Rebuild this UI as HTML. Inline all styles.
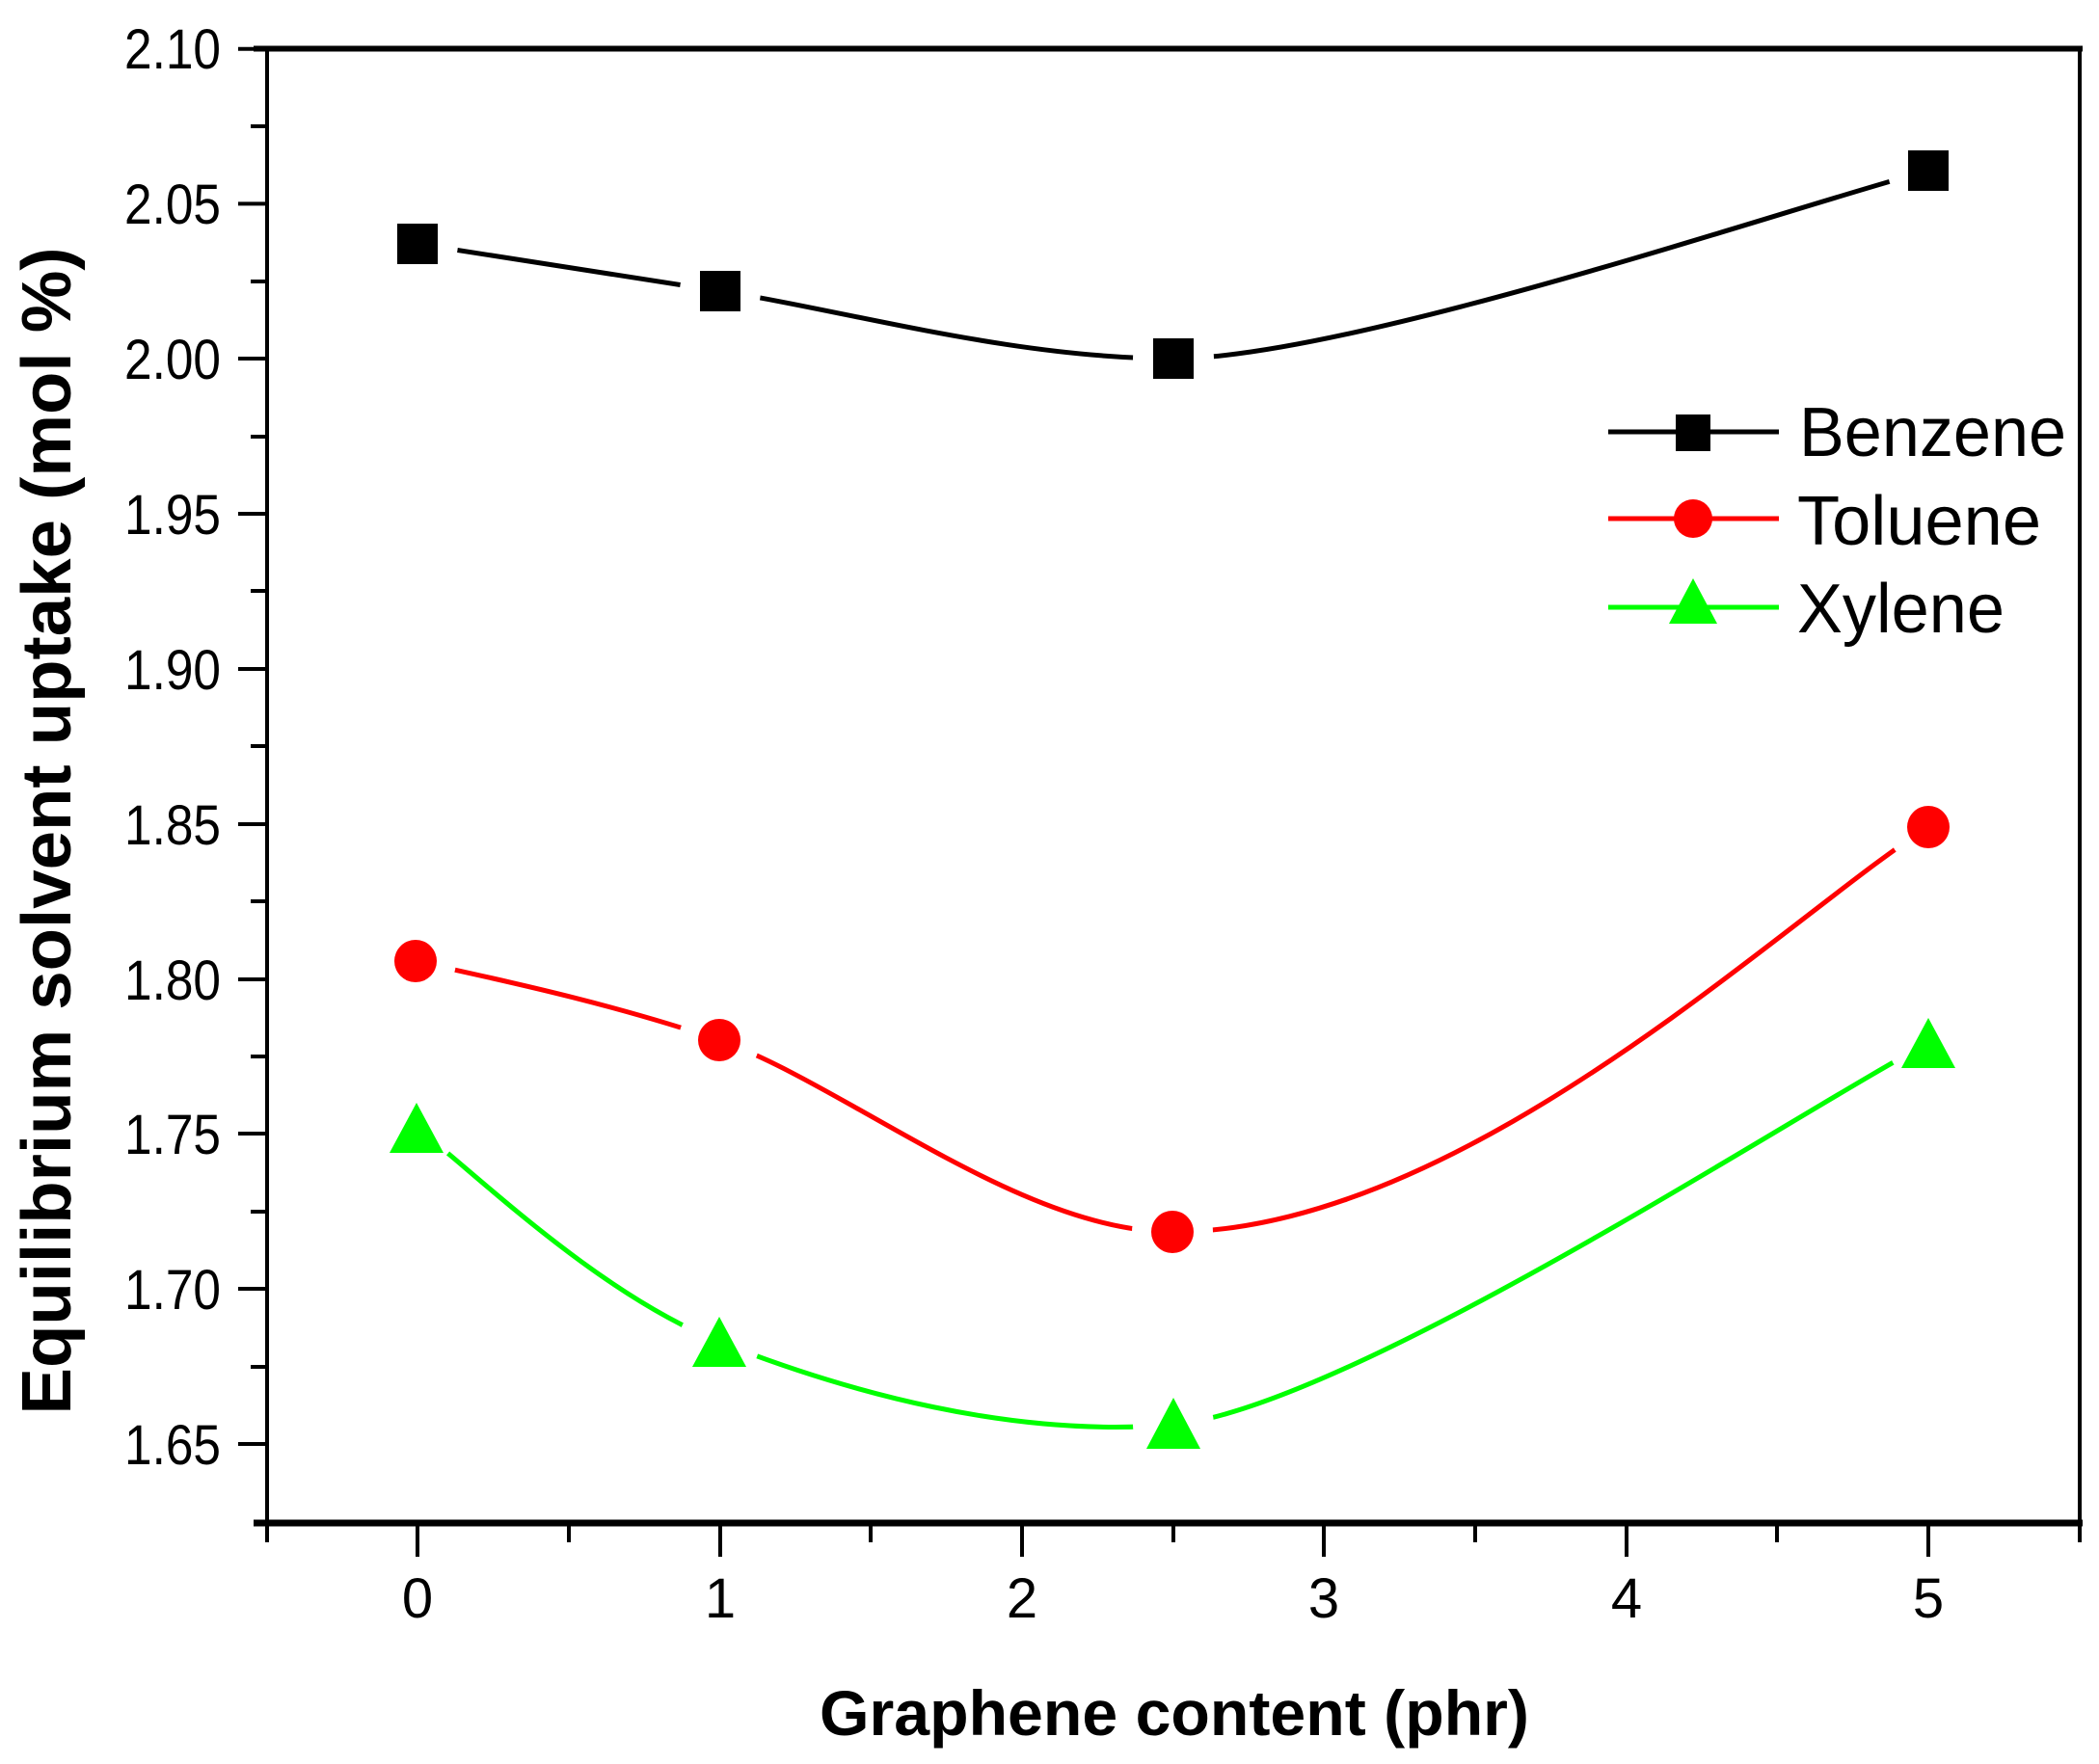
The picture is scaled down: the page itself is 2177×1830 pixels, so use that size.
<!DOCTYPE html>
<html><head><meta charset="utf-8"><style>
html,body{margin:0;padding:0;background:#fff;}
svg{display:block;}
text{font-family:"Liberation Sans",Arial,sans-serif;fill:#000;}
</style></head><body>
<svg width="2177" height="1830" viewBox="0 0 2177 1830" xmlns="http://www.w3.org/2000/svg">
<rect width="2177" height="1830" fill="#fff"/>
<line x1="277" y1="50.5" x2="277" y2="1580" stroke="#000" stroke-width="4"/>
<line x1="2157" y1="50.5" x2="2157" y2="1580" stroke="#000" stroke-width="4"/>
<line x1="263" y1="50.5" x2="2160" y2="50.5" stroke="#000" stroke-width="6"/>
<line x1="263" y1="1580" x2="2160" y2="1580" stroke="#000" stroke-width="7"/>
<g stroke="#000" stroke-width="4">
<line x1="247" y1="50.7" x2="277" y2="50.7"/>
<line x1="260" y1="131" x2="277" y2="131"/>
<line x1="247" y1="211.4" x2="277" y2="211.4"/>
<line x1="260" y1="292" x2="277" y2="292"/>
<line x1="247" y1="372" x2="277" y2="372"/>
<line x1="260" y1="453" x2="277" y2="453"/>
<line x1="247" y1="533" x2="277" y2="533"/>
<line x1="260" y1="613" x2="277" y2="613"/>
<line x1="247" y1="694" x2="277" y2="694"/>
<line x1="260" y1="774" x2="277" y2="774"/>
<line x1="247" y1="855" x2="277" y2="855"/>
<line x1="260" y1="935" x2="277" y2="935"/>
<line x1="247" y1="1016" x2="277" y2="1016"/>
<line x1="260" y1="1096" x2="277" y2="1096"/>
<line x1="247" y1="1176" x2="277" y2="1176"/>
<line x1="260" y1="1257" x2="277" y2="1257"/>
<line x1="247" y1="1337" x2="277" y2="1337"/>
<line x1="260" y1="1418" x2="277" y2="1418"/>
<line x1="247" y1="1498" x2="277" y2="1498"/>
</g>
<g stroke="#000" stroke-width="4">
<line x1="277" y1="1580" x2="277" y2="1600"/>
<line x1="433" y1="1580" x2="433" y2="1615"/>
<line x1="590" y1="1580" x2="590" y2="1600"/>
<line x1="747" y1="1580" x2="747" y2="1615"/>
<line x1="903" y1="1580" x2="903" y2="1600"/>
<line x1="1060" y1="1580" x2="1060" y2="1615"/>
<line x1="1217" y1="1580" x2="1217" y2="1600"/>
<line x1="1373" y1="1580" x2="1373" y2="1615"/>
<line x1="1530" y1="1580" x2="1530" y2="1600"/>
<line x1="1687" y1="1580" x2="1687" y2="1615"/>
<line x1="1843" y1="1580" x2="1843" y2="1600"/>
<line x1="2000" y1="1580" x2="2000" y2="1615"/>
<line x1="2157" y1="1580" x2="2157" y2="1600"/>
</g>
<g font-size="58" text-anchor="end">
<text x="229" y="71" textLength="100" lengthAdjust="spacingAndGlyphs">2.10</text>
<text x="229" y="232" textLength="100" lengthAdjust="spacingAndGlyphs">2.05</text>
<text x="229" y="393" textLength="100" lengthAdjust="spacingAndGlyphs">2.00</text>
<text x="229" y="554" textLength="100" lengthAdjust="spacingAndGlyphs">1.95</text>
<text x="229" y="715" textLength="100" lengthAdjust="spacingAndGlyphs">1.90</text>
<text x="229" y="876" textLength="100" lengthAdjust="spacingAndGlyphs">1.85</text>
<text x="229" y="1037" textLength="100" lengthAdjust="spacingAndGlyphs">1.80</text>
<text x="229" y="1197" textLength="100" lengthAdjust="spacingAndGlyphs">1.75</text>
<text x="229" y="1358" textLength="100" lengthAdjust="spacingAndGlyphs">1.70</text>
<text x="229" y="1519" textLength="100" lengthAdjust="spacingAndGlyphs">1.65</text>
</g>
<g font-size="58" text-anchor="middle">
<text x="433" y="1678">0</text>
<text x="747" y="1678">1</text>
<text x="1060" y="1678">2</text>
<text x="1373" y="1678">3</text>
<text x="1687" y="1678">4</text>
<text x="2000" y="1678">5</text>
</g>
<text x="1218" y="1800" font-size="66" font-weight="bold" text-anchor="middle" textLength="736" lengthAdjust="spacingAndGlyphs">Graphene content (phr)</text>
<text transform="translate(73,862) rotate(-90)" font-size="72" font-weight="bold" text-anchor="middle" textLength="1211" lengthAdjust="spacingAndGlyphs">Equilibrium solvent uptake (mol %)</text>
<g fill="none" stroke-width="5">
<path stroke="#000" d="M433,253 C486,261 616,282 747,302 C878,322 1050,372 1217,372 C1400,372 1870,211 2000,177"/>
<path stroke="#f00" d="M431,997 C486,1010 616,1035 746,1079 C878,1126 1060,1278 1216,1278 C1520,1278 1860,945 2000,858"/>
<path stroke="#00ff00" d="M432,1170 C486,1210 616,1340 746,1392 C878,1444 1050,1492 1217,1478 C1400,1460 1870,1150 2000,1082"/>
</g>
<g fill="#fff">
<circle cx="433" cy="253" r="42"/><circle cx="747" cy="302" r="42"/><circle cx="1217" cy="372" r="42"/><circle cx="2000" cy="177" r="42"/>
<circle cx="431" cy="997" r="42"/><circle cx="746" cy="1079" r="42"/><circle cx="1216" cy="1278" r="42"/><circle cx="2000" cy="858" r="42"/>
<circle cx="432" cy="1170" r="42"/><circle cx="746" cy="1392" r="42"/><circle cx="1217" cy="1478" r="42"/><circle cx="2000" cy="1082" r="42"/>
</g>
<g fill="#000">
<rect x="412" y="232" width="42" height="42"/>
<rect x="726" y="281" width="42" height="42"/>
<rect x="1196" y="351" width="42" height="42"/>
<rect x="1979" y="156" width="42" height="42"/>
</g>
<g fill="#f00">
<circle cx="431" cy="997" r="22"/><circle cx="746" cy="1079" r="22"/><circle cx="1216" cy="1278" r="22"/><circle cx="2000" cy="858" r="22"/>
</g>
<g fill="#00ff00">
<polygon points="432,1144 460,1196 404,1196"/>
<polygon points="746,1366 774,1418 718,1418"/>
<polygon points="1217,1450 1245,1503 1189,1503"/>
<polygon points="2000,1056 2028,1108 1972,1108"/>
</g>
<line x1="1668" y1="448" x2="1845" y2="448" stroke="#000" stroke-width="5"/>
<rect x="1738" y="430" width="36" height="38" fill="#000"/>
<line x1="1668" y1="538" x2="1845" y2="538" stroke="#f00" stroke-width="5"/>
<circle cx="1756" cy="538" r="20" fill="#f00"/>
<line x1="1668" y1="630" x2="1845" y2="630" stroke="#00ff00" stroke-width="5"/>
<polygon points="1756,600 1781,647 1731,647" fill="#00ff00"/>
<g font-size="72">
<text x="1866" y="473" textLength="277" lengthAdjust="spacingAndGlyphs">Benzene</text>
<text x="1864" y="565" textLength="253" lengthAdjust="spacingAndGlyphs">Toluene</text>
<text x="1864" y="656" textLength="215" lengthAdjust="spacingAndGlyphs">Xylene</text>
</g>
</svg>
</body></html>
